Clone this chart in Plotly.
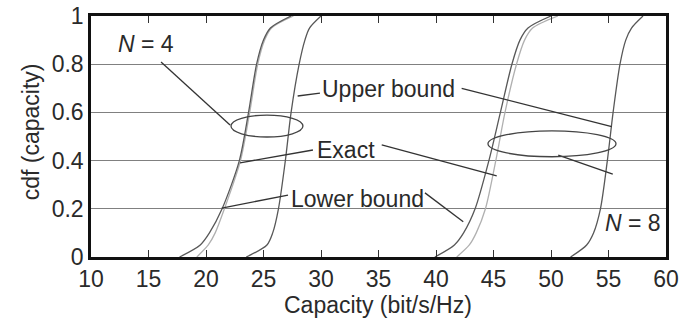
import plotly.graph_objects as go

# cdf levels at which capacity values were read
cdf_levels = [0, 0.05, 0.1, 0.2, 0.4, 0.6, 0.8, 0.9, 0.95, 1.0]

# N = 4
n4_lower = [17.7, 19.5, 20.3, 21.4, 22.9, 23.7, 24.4, 25.0, 25.6, 27.4]
n4_exact = [19.2, 20.2, 20.8, 21.6, 23.0, 23.8, 24.5, 25.1, 25.7, 27.6]
n4_upper = [23.5, 25.3, 25.8, 26.3, 26.9, 27.4, 28.1, 28.6, 29.0, 30.0]

# N = 8
n8_lower = [39.9, 41.6, 42.4, 43.4, 44.6, 45.6, 46.6, 47.3, 48.0, 50.0]
n8_exact = [41.8, 42.9, 43.5, 44.3, 45.2, 46.0, 47.0, 47.7, 48.4, 50.6]
n8_upper = [51.7, 53.1, 53.7, 54.3, 54.9, 55.4, 56.0, 56.5, 57.0, 58.0]

x_ticks = [10, 15, 20, 25, 30, 35, 40, 45, 50, 55, 60]
y_ticks = [0, 0.2, 0.4, 0.6, 0.8, 1]
y_ticktext = ["0", "0.2", "0.4", "0.6", "0.8", "1"]

DARK = "#585858"
LIGHT = "#b0b0b0"
TXT = "#2a2a2a"
FONT = "Liberation Sans, Arial, sans-serif"
FS = 23

fig = go.Figure()
series = [
    (n4_exact, LIGHT), (n4_lower, DARK), (n4_upper, DARK),
    (n8_exact, LIGHT), (n8_lower, DARK), (n8_upper, DARK),
]
for xs, col in series:
    fig.add_trace(go.Scatter(
        x=xs, y=cdf_levels, mode="lines",
        line=dict(color=col, width=1.3, shape="spline", smoothing=0.8),
        showlegend=False, hoverinfo="skip"))

line_style = dict(color="#333333", width=1.3)
pointers = [
    ((16.09, 0.809), (22.09, 0.548)),
    ((27.97, 0.668), (29.91, 0.680)),
    ((42.23, 0.700), (55.28, 0.541)),
    ((22.96, 0.391), (29.30, 0.444)),
    ((35.28, 0.465), (45.28, 0.337)),
    ((21.37, 0.203), (27.13, 0.257)),
    ((39.04, 0.266), (42.37, 0.146)),
    ((50.63, 0.423), (55.37, 0.344)),
]
for (xa, ya), (xb, yb) in pointers:
    fig.add_shape(type="line", xref="x", yref="y", x0=xa, y0=ya, x1=xb, y1=yb,
                  line=line_style)

fig.add_shape(type="circle", xref="x", yref="y", x0=22.17, x1=28.43, y0=0.498, y1=0.589,
              line=dict(color="#444444", width=1.3))
fig.add_shape(type="circle", xref="x", yref="y", x0=44.52, x1=55.65, y0=0.416, y1=0.523,
              line=dict(color="#444444", width=1.3))

ann_font = dict(family=FONT, size=FS, color=TXT)
fig.add_annotation(x=14.78, y=0.884, text="<i>N</i> = 4", showarrow=False,
                   xanchor="center", yanchor="middle", font=ann_font)
fig.add_annotation(x=29.9, y=0.697, text="Upper bound", showarrow=False,
                   xanchor="left", yanchor="middle", font=ann_font)
fig.add_annotation(x=29.5, y=0.442, text="Exact", showarrow=False,
                   xanchor="left", yanchor="middle", font=ann_font)
fig.add_annotation(x=27.2, y=0.241, text="Lower bound", showarrow=False,
                   xanchor="left", yanchor="middle", font=ann_font)
fig.add_annotation(x=59.75, y=0.141, text="<i>N</i> = 8", showarrow=False,
                   xanchor="right", yanchor="middle", font=ann_font)

# axis titles
fig.add_annotation(xref="paper", yref="paper", x=0.499, y=-0.2,
                   text="Capacity (bit/s/Hz)", showarrow=False,
                   xanchor="center", yanchor="middle", font=ann_font)
fig.add_annotation(xref="paper", yref="paper", x=-0.105, y=0.52,
                   text="cdf (capacity)", showarrow=False, textangle=-90,
                   xanchor="center", yanchor="middle", font=ann_font)

fig.update_xaxes(
    range=[10, 60], tickvals=x_ticks, showgrid=False, zeroline=False,
    showline=True, linewidth=2.5, linecolor="#111111", mirror="allticks",
    ticks="inside", ticklen=7, tickwidth=1.2, tickcolor="#333333",
    tickfont=dict(family=FONT, size=FS, color=TXT), automargin=False)
fig.update_yaxes(
    range=[0, 1], tickvals=y_ticks, ticktext=y_ticktext,
    showgrid=True, gridcolor="#808080", gridwidth=1.4, zeroline=False,
    showline=True, linewidth=2.5, linecolor="#111111", mirror=True,
    ticks="", tickfont=dict(family=FONT, size=FS, color=TXT), automargin=False)

fig.update_layout(
    width=681, height=325,
    margin=dict(l=91, r=15, t=16, b=68),
    paper_bgcolor="white", plot_bgcolor="white",
    font=dict(family=FONT, color=TXT),
)

fig.write_html("out.html", config={"displayModeBar": False},
               post_script="document.body.style.margin='0px';document.body.style.overflow='hidden';")
